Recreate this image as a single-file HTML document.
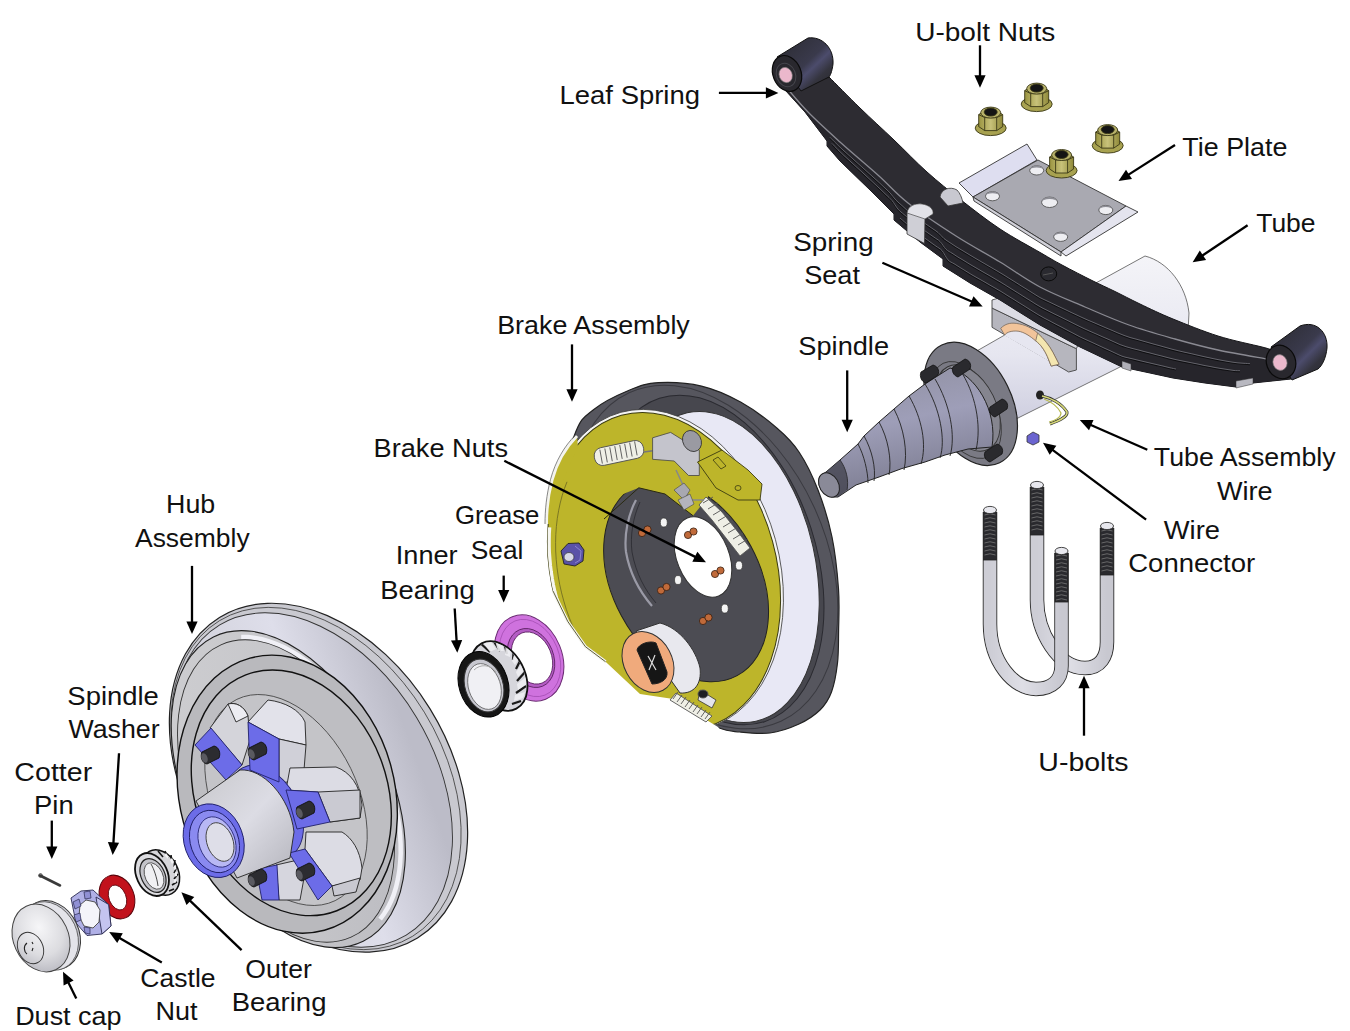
<!DOCTYPE html>
<html><head><meta charset="utf-8"><title>Trailer axle exploded view</title>
<style>
html,body{margin:0;padding:0;background:#fff;overflow:hidden;}
svg{display:block;}
text{font-family:"Liberation Sans",sans-serif;font-size:25.5px;fill:#111;}
</style></head>
<body>
<svg width="1350" height="1031" viewBox="0 0 1350 1031">
<defs>
<linearGradient id="gEye" x1="0" y1="0" x2="1" y2="1">
 <stop offset="0" stop-color="#2a2a30"/><stop offset="0.5" stop-color="#3a3a4c"/><stop offset="0.6" stop-color="#4c4c6c"/><stop offset="0.75" stop-color="#34343e"/><stop offset="1" stop-color="#26262c"/>
</linearGradient>
<linearGradient id="gTube" x1="0" y1="0" x2="0" y2="1">
 <stop offset="0" stop-color="#f4f4f8"/><stop offset="0.6" stop-color="#e6e6f0"/><stop offset="1" stop-color="#cfcfe0"/>
</linearGradient>
<linearGradient id="gSpindle" x1="0" y1="0" x2="0.3" y2="1">
 <stop offset="0" stop-color="#8e8e9e"/><stop offset="0.5" stop-color="#9e9eb8"/><stop offset="1" stop-color="#7c7c90"/>
</linearGradient>
<linearGradient id="gDrum" x1="0" y1="0" x2="1" y2="1">
 <stop offset="0" stop-color="#cfcfd2"/><stop offset="0.6" stop-color="#c4c4c8"/><stop offset="1" stop-color="#b8b8be"/>
</linearGradient>
<linearGradient id="gDrumSide" x1="0" y1="0" x2="1" y2="0.3">
 <stop offset="0" stop-color="#c8c8d0"/><stop offset="0.65" stop-color="#dedeea"/><stop offset="1" stop-color="#bcbcc8"/>
</linearGradient>
<linearGradient id="gHub" x1="0" y1="0" x2="1" y2="1">
 <stop offset="0" stop-color="#c8c8cc"/><stop offset="0.5" stop-color="#dcdce4"/><stop offset="1" stop-color="#b4b4bc"/>
</linearGradient>
<radialGradient id="gCap" cx="0.55" cy="0.35" r="0.7">
 <stop offset="0" stop-color="#f6f6f8"/><stop offset="0.6" stop-color="#dcdce0"/><stop offset="1" stop-color="#b8b8c0"/>
</radialGradient>
<linearGradient id="gNut" x1="0" y1="0" x2="1" y2="0">
 <stop offset="0" stop-color="#9a9440"/><stop offset="0.5" stop-color="#c8c27a"/><stop offset="1" stop-color="#8e8838"/>
</linearGradient>
<linearGradient id="gUbolt" x1="0" y1="0" x2="1" y2="0">
 <stop offset="0" stop-color="#c0c0c8"/><stop offset="0.45" stop-color="#ececf2"/><stop offset="1" stop-color="#b4b4bc"/>
</linearGradient>
</defs>
<g id="tube" stroke="#555" stroke-width="0.8">
<path d="M975,352 L1094,284 L1145,256 C1168,262 1186,285 1189,313 L1188,332 L1118,368 L1014,420 Z" fill="url(#gTube)"/>
</g>
<g id="seat" stroke="#444" stroke-width="0.9">
<path d="M992,308 L1076.4,348.7 L1076.4,370 L1068.7,372 L992,327.3 Z" fill="#b6b6be"/>
<path d="M992,300 L998.8,298 L1080,340 L1076.4,348.7 L992,308 Z" fill="#dcdce4"/>
<path d="M1004.6,335 C1007,332 1012,330.5 1018.2,331.2 C1024,332 1030,336 1035.7,340.9 C1040,344 1044,349 1047.3,356.4 L1051.2,366.1 L1052,363 L1004.6,335.5 Z" fill="#e6e6f0" stroke="none"/>
<path d="M1000.7,328.3 C1005,324 1010,322.5 1016.3,323.4 C1025,324.5 1032,328 1037.6,333.1 C1044,339 1049,345 1053,352.5 L1059,364.2 L1051.2,366.1 L1047.3,356.4 C1044,349 1040,344 1035.7,340.9 C1030,336 1024,332 1018.2,331.2 C1012,330.5 1007,332 1004.6,335 Z" fill="#f2c49a" stroke="#7a6a5a" stroke-width="0.8"/>
<path d="M1037.6,333.1 C1044,339 1049,345 1053,352.5 L1059,364.2 L1051.2,366.1 L1047.3,356.4 C1044,349 1040,344 1035.7,340.9 Z" fill="#f4e6b0" stroke="#7a6a5a" stroke-width="0.8"/>
</g>
<g id="tieplate" stroke="#333" stroke-width="0.9">
<path d="M959,183 L1027,144 L1037,160 L973,197 Z" fill="#dedef0"/>
<path d="M973,197 L1038,160 L1126,206 L1061,252 Z" fill="#a9a9b1"/>
<path d="M973,197 L1061,252 L1061,256 L974,201 Z" fill="#d0d0d8"/>
<path d="M1061,252 L1126,206 L1138,212 L1066,256 Z" fill="#e4e4ee"/>
<g fill="#eeeef2" stroke="#444" stroke-width="0.8">
<ellipse cx="992.5" cy="196.2" rx="7" ry="4.6"/>
<ellipse cx="1036.7" cy="170.4" rx="7" ry="4.6"/>
<ellipse cx="1049.6" cy="202.3" rx="8" ry="5.2"/>
<ellipse cx="1105.8" cy="210" rx="7" ry="4.6"/>
<ellipse cx="1060.7" cy="236.8" rx="7" ry="4.6"/>
</g>
<g fill="#8e8e96" stroke="none">
<path d="M985.5,196.2 A7,4.6 0 0 1 999.5,196.2 A7,3 0 0 0 985.5,196.2 Z"/>
<path d="M1029.7,170.4 A7,4.6 0 0 1 1043.7,170.4 A7,3 0 0 0 1029.7,170.4 Z"/>
<path d="M1041.6,202.3 A8,5.2 0 0 1 1057.6,202.3 A8,3.4 0 0 0 1041.6,202.3 Z"/>
<path d="M1098.8,210 A7,4.6 0 0 1 1112.8,210 A7,3 0 0 0 1098.8,210 Z"/>
<path d="M1053.7,236.8 A7,4.6 0 0 1 1067.7,236.8 A7,3 0 0 0 1053.7,236.8 Z"/>
</g>
</g>
<g transform="translate(990.7,121.6)" stroke="#3a3816" stroke-width="0.9">
<ellipse cx="0" cy="6.5" rx="15.5" ry="7.5" fill="#a8a250"/>
<path d="M-12,-7 L-6,-11 L6,-11 L12,-7 L12,5 L6,9 L-6,9 L-12,5 Z" fill="url(#gNut)"/>
<path d="M-6,-4 L-6,9 M6,-4 L6,9 M-12,-7 L-6,-4 L6,-4 L12,-7" fill="none"/>
<ellipse cx="0" cy="-9" rx="10" ry="5.5" fill="#b8b26a"/>
<ellipse cx="0" cy="-9.5" rx="6.5" ry="4" fill="#141414"/>
</g>
<g transform="translate(1036.7,97.6)" stroke="#3a3816" stroke-width="0.9">
<ellipse cx="0" cy="6.5" rx="15.5" ry="7.5" fill="#a8a250"/>
<path d="M-12,-7 L-6,-11 L6,-11 L12,-7 L12,5 L6,9 L-6,9 L-12,5 Z" fill="url(#gNut)"/>
<path d="M-6,-4 L-6,9 M6,-4 L6,9 M-12,-7 L-6,-4 L6,-4 L12,-7" fill="none"/>
<ellipse cx="0" cy="-9" rx="10" ry="5.5" fill="#b8b26a"/>
<ellipse cx="0" cy="-9.5" rx="6.5" ry="4" fill="#141414"/>
</g>
<g transform="translate(1107.7,139.1)" stroke="#3a3816" stroke-width="0.9">
<ellipse cx="0" cy="6.5" rx="15.5" ry="7.5" fill="#a8a250"/>
<path d="M-12,-7 L-6,-11 L6,-11 L12,-7 L12,5 L6,9 L-6,9 L-12,5 Z" fill="url(#gNut)"/>
<path d="M-6,-4 L-6,9 M6,-4 L6,9 M-12,-7 L-6,-4 L6,-4 L12,-7" fill="none"/>
<ellipse cx="0" cy="-9" rx="10" ry="5.5" fill="#b8b26a"/>
<ellipse cx="0" cy="-9.5" rx="6.5" ry="4" fill="#141414"/>
</g>
<g transform="translate(1061.6,164)" stroke="#3a3816" stroke-width="0.9">
<ellipse cx="0" cy="6.5" rx="15.5" ry="7.5" fill="#a8a250"/>
<path d="M-12,-7 L-6,-11 L6,-11 L12,-7 L12,5 L6,9 L-6,9 L-12,5 Z" fill="url(#gNut)"/>
<path d="M-6,-4 L-6,9 M6,-4 L6,9 M-12,-7 L-6,-4 L6,-4 L12,-7" fill="none"/>
<ellipse cx="0" cy="-9" rx="10" ry="5.5" fill="#b8b26a"/>
<ellipse cx="0" cy="-9.5" rx="6.5" ry="4" fill="#141414"/>
</g>
<g id="leaf"><path d="M829.0,77.0 C834.2,82.2 849.2,97.5 860.0,108.0 C870.8,118.5 882.8,129.3 894.0,140.0 C905.2,150.7 915.8,162.0 927.0,172.0 C938.2,182.0 948.8,190.5 961.0,200.0 C973.2,209.5 986.7,220.2 1000.0,229.0 C1013.3,237.8 1030.7,247.0 1041.0,253.0 C1051.3,259.0 1053.3,260.3 1062.0,265.0 C1070.7,269.7 1084.3,276.7 1093.0,281.0 C1101.7,285.3 1106.2,287.2 1114.0,291.0 C1121.8,294.8 1130.2,299.3 1140.0,304.0 C1149.8,308.7 1160.0,313.7 1173.0,319.0 C1186.0,324.3 1203.2,331.3 1218.0,336.0 C1232.8,340.7 1253.0,344.7 1262.0,347.0 C1271.0,349.3 1270.3,349.5 1272.0,350.0 L1291,379 L1291,379 L1253,383 L1236,387 L1205,383 L1173,378 L1150,373 L1122,367 L1080,347 L1040,325 L1000,300 L970,283 L943,266 L943,259 L920,242 L894,220 L894,214 L870,190 L840,161 L827,146 L827,141 L805,112 L786,91 Z" fill="#2d2c32" stroke="#151518" stroke-width="1"/><path d="M786.0,87.0 C789.7,91.2 799.0,102.8 808.0,112.0 C817.0,121.2 828.2,131.3 840.0,142.0 C851.8,152.7 867.7,165.8 879.0,176.0 C890.3,186.2 895.2,193.0 908.0,203.0 C920.8,213.0 940.7,226.2 956.0,236.0 C971.3,245.8 986.0,253.5 1000.0,262.0 C1014.0,270.5 1025.8,279.5 1040.0,287.0 C1054.2,294.5 1070.2,300.7 1085.0,307.0 C1099.8,313.3 1114.0,319.7 1129.0,325.0 C1144.0,330.3 1160.2,334.8 1175.0,339.0 C1189.8,343.2 1202.7,346.7 1218.0,350.0 C1233.3,353.3 1258.8,357.5 1267.0,359.0 L1291,379 L1291,379 L1253,383 L1236,387 L1205,383 L1173,378 L1150,373 L1122,367 L1080,347 L1040,325 L1000,300 L970,283 L943,266 L943,259 L920,242 L894,220 L894,214 L870,190 L840,161 L827,146 L827,141 L805,112 L786,91 Z" fill="#26252b"/><path d="M830.0,137.3 C831.0,138.3 834.0,141.4 836.0,143.3 C838.0,145.3 840.0,147.3 842.0,149.1 C844.0,151.0 846.0,152.7 848.0,154.5 C850.0,156.3 852.0,158.1 854.0,159.9 C856.0,161.7 858.0,163.5 860.0,165.3 C862.0,167.1 864.0,168.9 866.0,170.7 C868.0,172.5 870.0,174.3 872.0,176.1 C874.0,177.9 876.0,179.7 878.0,181.5 C880.0,183.4 882.0,185.3 884.0,187.2 C886.0,189.1 888.0,190.7 890.0,192.9 C892.0,195.1 894.0,198.1 896.0,200.2 C898.0,202.3 900.0,203.8 902.0,205.6 C904.0,207.4 906.0,209.4 908.0,211.1 C910.0,212.7 912.0,214.0 914.0,215.5 C916.0,216.9 918.0,218.4 920.0,219.9 C922.0,221.3 924.0,222.7 926.0,224.1 C928.0,225.5 930.0,226.9 932.0,228.3 C934.0,229.7 936.0,230.8 938.0,232.5 C940.0,234.2 942.0,236.9 944.0,238.6 C946.0,240.3 948.0,241.3 950.0,242.7 C952.0,244.0 954.0,245.4 956.0,246.7 C958.0,248.0 960.0,249.1 962.0,250.3 C964.0,251.5 966.0,252.7 968.0,253.9 C970.0,255.1 972.0,256.3 974.0,257.5 C976.0,258.6 978.0,259.8 980.0,261.0 C982.0,262.1 984.0,263.3 986.0,264.5 C988.0,265.6 990.0,266.8 992.0,268.0 C994.0,269.1 996.0,270.3 998.0,271.5 C1000.0,272.7 1002.0,273.9 1004.0,275.1 C1006.0,276.4 1008.0,277.6 1010.0,278.9 C1012.0,280.1 1014.0,281.4 1016.0,282.6 C1018.0,283.9 1020.0,285.1 1022.0,286.4 C1024.0,287.6 1026.0,288.9 1028.0,290.1 C1030.0,291.4 1032.0,292.6 1034.0,293.9 C1036.0,295.1 1038.0,296.5 1040.0,297.6 C1042.0,298.7 1044.0,299.5 1046.0,300.5 C1048.0,301.4 1050.0,302.4 1052.0,303.3 C1054.0,304.3 1056.0,305.2 1058.0,306.2 C1060.0,307.1 1062.0,308.1 1064.0,309.0 C1066.0,310.0 1068.0,310.9 1070.0,311.9 C1072.0,312.8 1074.0,313.8 1076.0,314.7 C1078.0,315.6 1080.0,316.6 1082.0,317.5 C1084.0,318.4 1086.0,319.3 1088.0,320.2 C1090.0,321.0 1092.0,321.9 1094.0,322.7 C1096.0,323.6 1098.0,324.4 1100.0,325.3 C1102.0,326.1 1104.0,327.0 1106.0,327.9 C1108.0,328.7 1110.0,329.6 1112.0,330.4 C1114.0,331.3 1116.0,332.2 1118.0,333.0 C1120.0,333.8 1122.0,334.7 1124.0,335.4 C1126.0,336.2 1128.0,336.8 1130.0,337.5 C1132.0,338.1 1134.0,338.6 1136.0,339.1 C1138.0,339.7 1140.0,340.3 1142.0,340.8 C1144.0,341.4 1146.0,341.9 1148.0,342.5 C1150.0,343.0 1152.0,343.6 1154.0,344.2 C1156.0,344.7 1158.0,345.3 1160.0,345.8 C1162.0,346.4 1164.0,347.0 1166.0,347.5 C1168.0,348.1 1170.0,348.7 1172.0,349.2 C1174.0,349.7 1176.0,350.2 1178.0,350.7 C1180.0,351.2 1182.0,351.6 1184.0,352.1 C1186.0,352.5 1188.0,353.0 1190.0,353.4 C1192.0,353.9 1194.0,354.3 1196.0,354.8 C1198.0,355.3 1200.0,355.7 1202.0,356.2 C1204.0,356.6 1206.0,357.1 1208.0,357.5 C1210.0,358.0 1212.0,358.4 1214.0,358.8 C1216.0,359.3 1218.0,359.7 1220.0,360.0 C1222.0,360.4 1224.0,360.7 1226.0,361.1 C1228.0,361.4 1230.0,361.8 1232.0,362.1 C1234.0,362.4 1236.0,362.7 1238.0,362.9 C1240.0,363.1 1242.0,363.1 1244.0,363.3 C1246.0,363.4 1249.0,363.6 1250.0,363.7" fill="none" stroke="#0e0e10" stroke-width="1.3" transform="translate(0,0.8)"/><path d="M830.0,137.3 C831.0,138.3 834.0,141.4 836.0,143.3 C838.0,145.3 840.0,147.3 842.0,149.1 C844.0,151.0 846.0,152.7 848.0,154.5 C850.0,156.3 852.0,158.1 854.0,159.9 C856.0,161.7 858.0,163.5 860.0,165.3 C862.0,167.1 864.0,168.9 866.0,170.7 C868.0,172.5 870.0,174.3 872.0,176.1 C874.0,177.9 876.0,179.7 878.0,181.5 C880.0,183.4 882.0,185.3 884.0,187.2 C886.0,189.1 888.0,190.7 890.0,192.9 C892.0,195.1 894.0,198.1 896.0,200.2 C898.0,202.3 900.0,203.8 902.0,205.6 C904.0,207.4 906.0,209.4 908.0,211.1 C910.0,212.7 912.0,214.0 914.0,215.5 C916.0,216.9 918.0,218.4 920.0,219.9 C922.0,221.3 924.0,222.7 926.0,224.1 C928.0,225.5 930.0,226.9 932.0,228.3 C934.0,229.7 936.0,230.8 938.0,232.5 C940.0,234.2 942.0,236.9 944.0,238.6 C946.0,240.3 948.0,241.3 950.0,242.7 C952.0,244.0 954.0,245.4 956.0,246.7 C958.0,248.0 960.0,249.1 962.0,250.3 C964.0,251.5 966.0,252.7 968.0,253.9 C970.0,255.1 972.0,256.3 974.0,257.5 C976.0,258.6 978.0,259.8 980.0,261.0 C982.0,262.1 984.0,263.3 986.0,264.5 C988.0,265.6 990.0,266.8 992.0,268.0 C994.0,269.1 996.0,270.3 998.0,271.5 C1000.0,272.7 1002.0,273.9 1004.0,275.1 C1006.0,276.4 1008.0,277.6 1010.0,278.9 C1012.0,280.1 1014.0,281.4 1016.0,282.6 C1018.0,283.9 1020.0,285.1 1022.0,286.4 C1024.0,287.6 1026.0,288.9 1028.0,290.1 C1030.0,291.4 1032.0,292.6 1034.0,293.9 C1036.0,295.1 1038.0,296.5 1040.0,297.6 C1042.0,298.7 1044.0,299.5 1046.0,300.5 C1048.0,301.4 1050.0,302.4 1052.0,303.3 C1054.0,304.3 1056.0,305.2 1058.0,306.2 C1060.0,307.1 1062.0,308.1 1064.0,309.0 C1066.0,310.0 1068.0,310.9 1070.0,311.9 C1072.0,312.8 1074.0,313.8 1076.0,314.7 C1078.0,315.6 1080.0,316.6 1082.0,317.5 C1084.0,318.4 1086.0,319.3 1088.0,320.2 C1090.0,321.0 1092.0,321.9 1094.0,322.7 C1096.0,323.6 1098.0,324.4 1100.0,325.3 C1102.0,326.1 1104.0,327.0 1106.0,327.9 C1108.0,328.7 1110.0,329.6 1112.0,330.4 C1114.0,331.3 1116.0,332.2 1118.0,333.0 C1120.0,333.8 1122.0,334.7 1124.0,335.4 C1126.0,336.2 1128.0,336.8 1130.0,337.5 C1132.0,338.1 1134.0,338.6 1136.0,339.1 C1138.0,339.7 1140.0,340.3 1142.0,340.8 C1144.0,341.4 1146.0,341.9 1148.0,342.5 C1150.0,343.0 1152.0,343.6 1154.0,344.2 C1156.0,344.7 1158.0,345.3 1160.0,345.8 C1162.0,346.4 1164.0,347.0 1166.0,347.5 C1168.0,348.1 1170.0,348.7 1172.0,349.2 C1174.0,349.7 1176.0,350.2 1178.0,350.7 C1180.0,351.2 1182.0,351.6 1184.0,352.1 C1186.0,352.5 1188.0,353.0 1190.0,353.4 C1192.0,353.9 1194.0,354.3 1196.0,354.8 C1198.0,355.3 1200.0,355.7 1202.0,356.2 C1204.0,356.6 1206.0,357.1 1208.0,357.5 C1210.0,358.0 1212.0,358.4 1214.0,358.8 C1216.0,359.3 1218.0,359.7 1220.0,360.0 C1222.0,360.4 1224.0,360.7 1226.0,361.1 C1228.0,361.4 1230.0,361.8 1232.0,362.1 C1234.0,362.4 1236.0,362.7 1238.0,362.9 C1240.0,363.1 1242.0,363.1 1244.0,363.3 C1246.0,363.4 1249.0,363.6 1250.0,363.7" fill="none" stroke="#6c6c74" stroke-width="0.9"/><path d="M832.0,143.5 C833.0,144.5 836.0,147.8 838.0,149.8 C840.0,151.8 842.0,153.7 844.0,155.6 C846.0,157.4 848.0,159.2 850.0,161.1 C852.0,162.9 854.0,164.8 856.0,166.6 C858.0,168.5 860.0,170.3 862.0,172.1 C864.0,174.0 866.0,175.8 868.0,177.7 C870.0,179.5 872.0,181.4 874.0,183.3 C876.0,185.1 878.0,187.0 880.0,188.9 C882.0,190.8 884.0,192.8 886.0,194.7 C888.0,196.7 890.0,198.1 892.0,200.5 C894.0,202.9 896.0,206.8 898.0,209.1 C900.0,211.5 902.0,212.7 904.0,214.5 C906.0,216.2 908.0,217.9 910.0,219.5 C912.0,221.2 914.0,222.6 916.0,224.2 C918.0,225.7 920.0,227.2 922.0,228.7 C924.0,230.1 926.0,231.5 928.0,233.0 C930.0,234.4 932.0,235.8 934.0,237.2 C936.0,238.7 938.0,239.5 940.0,241.5 C942.0,243.5 944.0,247.3 946.0,249.3 C948.0,251.2 950.0,251.9 952.0,253.2 C954.0,254.5 956.0,255.8 958.0,257.1 C960.0,258.3 962.0,259.5 964.0,260.7 C966.0,262.0 968.0,263.2 970.0,264.4 C972.0,265.6 974.0,266.7 976.0,267.9 C978.0,269.0 980.0,270.2 982.0,271.4 C984.0,272.5 986.0,273.7 988.0,274.8 C990.0,276.0 992.0,277.1 994.0,278.3 C996.0,279.4 998.0,280.6 1000.0,281.8 C1002.0,283.0 1004.0,284.3 1006.0,285.5 C1008.0,286.8 1010.0,288.0 1012.0,289.3 C1014.0,290.5 1016.0,291.8 1018.0,293.0 C1020.0,294.3 1022.0,295.5 1024.0,296.8 C1026.0,298.0 1028.0,299.3 1030.0,300.5 C1032.0,301.8 1034.0,303.1 1036.0,304.3 C1038.0,305.5 1040.0,306.7 1042.0,307.8 C1044.0,308.8 1046.0,309.8 1048.0,310.8 C1050.0,311.8 1052.0,312.8 1054.0,313.8 C1056.0,314.7 1058.0,315.7 1060.0,316.7 C1062.0,317.7 1064.0,318.7 1066.0,319.7 C1068.0,320.7 1070.0,321.7 1072.0,322.7 C1074.0,323.7 1076.0,324.8 1078.0,325.7 C1080.0,326.7 1082.0,327.7 1084.0,328.6 C1086.0,329.5 1088.0,330.4 1090.0,331.3 C1092.0,332.1 1094.0,333.0 1096.0,333.9 C1098.0,334.8 1100.0,335.7 1102.0,336.6 C1104.0,337.5 1106.0,338.4 1108.0,339.2 C1110.0,340.1 1112.0,341.0 1114.0,341.9 C1116.0,342.8 1118.0,343.8 1120.0,344.6 C1122.0,345.4 1124.0,346.1 1126.0,346.7 C1128.0,347.3 1130.0,347.9 1132.0,348.4 C1134.0,348.9 1136.0,349.4 1138.0,349.9 C1140.0,350.5 1142.0,351.0 1144.0,351.5 C1146.0,352.0 1148.0,352.5 1150.0,353.0 C1152.0,353.5 1154.0,354.1 1156.0,354.6 C1158.0,355.1 1160.0,355.6 1162.0,356.1 C1164.0,356.7 1166.0,357.2 1168.0,357.7 C1170.0,358.2 1172.0,358.8 1174.0,359.2 C1176.0,359.7 1178.0,360.1 1180.0,360.5 C1182.0,360.9 1184.0,361.3 1186.0,361.7 C1188.0,362.1 1190.0,362.5 1192.0,362.9 C1194.0,363.3 1196.0,363.7 1198.0,364.1 C1200.0,364.5 1202.0,365.0 1204.0,365.4 C1206.0,365.8 1208.0,366.1 1210.0,366.5 C1212.0,366.9 1214.0,367.3 1216.0,367.7 C1218.0,368.0 1220.0,368.3 1222.0,368.7 C1224.0,369.0 1226.0,369.3 1228.0,369.6 C1230.0,369.9 1232.0,370.3 1234.0,370.5 C1236.0,370.7 1239.0,370.7 1240.0,370.7" fill="none" stroke="#0e0e10" stroke-width="1.3" transform="translate(0,0.8)"/><path d="M832.0,143.5 C833.0,144.5 836.0,147.8 838.0,149.8 C840.0,151.8 842.0,153.7 844.0,155.6 C846.0,157.4 848.0,159.2 850.0,161.1 C852.0,162.9 854.0,164.8 856.0,166.6 C858.0,168.5 860.0,170.3 862.0,172.1 C864.0,174.0 866.0,175.8 868.0,177.7 C870.0,179.5 872.0,181.4 874.0,183.3 C876.0,185.1 878.0,187.0 880.0,188.9 C882.0,190.8 884.0,192.8 886.0,194.7 C888.0,196.7 890.0,198.1 892.0,200.5 C894.0,202.9 896.0,206.8 898.0,209.1 C900.0,211.5 902.0,212.7 904.0,214.5 C906.0,216.2 908.0,217.9 910.0,219.5 C912.0,221.2 914.0,222.6 916.0,224.2 C918.0,225.7 920.0,227.2 922.0,228.7 C924.0,230.1 926.0,231.5 928.0,233.0 C930.0,234.4 932.0,235.8 934.0,237.2 C936.0,238.7 938.0,239.5 940.0,241.5 C942.0,243.5 944.0,247.3 946.0,249.3 C948.0,251.2 950.0,251.9 952.0,253.2 C954.0,254.5 956.0,255.8 958.0,257.1 C960.0,258.3 962.0,259.5 964.0,260.7 C966.0,262.0 968.0,263.2 970.0,264.4 C972.0,265.6 974.0,266.7 976.0,267.9 C978.0,269.0 980.0,270.2 982.0,271.4 C984.0,272.5 986.0,273.7 988.0,274.8 C990.0,276.0 992.0,277.1 994.0,278.3 C996.0,279.4 998.0,280.6 1000.0,281.8 C1002.0,283.0 1004.0,284.3 1006.0,285.5 C1008.0,286.8 1010.0,288.0 1012.0,289.3 C1014.0,290.5 1016.0,291.8 1018.0,293.0 C1020.0,294.3 1022.0,295.5 1024.0,296.8 C1026.0,298.0 1028.0,299.3 1030.0,300.5 C1032.0,301.8 1034.0,303.1 1036.0,304.3 C1038.0,305.5 1040.0,306.7 1042.0,307.8 C1044.0,308.8 1046.0,309.8 1048.0,310.8 C1050.0,311.8 1052.0,312.8 1054.0,313.8 C1056.0,314.7 1058.0,315.7 1060.0,316.7 C1062.0,317.7 1064.0,318.7 1066.0,319.7 C1068.0,320.7 1070.0,321.7 1072.0,322.7 C1074.0,323.7 1076.0,324.8 1078.0,325.7 C1080.0,326.7 1082.0,327.7 1084.0,328.6 C1086.0,329.5 1088.0,330.4 1090.0,331.3 C1092.0,332.1 1094.0,333.0 1096.0,333.9 C1098.0,334.8 1100.0,335.7 1102.0,336.6 C1104.0,337.5 1106.0,338.4 1108.0,339.2 C1110.0,340.1 1112.0,341.0 1114.0,341.9 C1116.0,342.8 1118.0,343.8 1120.0,344.6 C1122.0,345.4 1124.0,346.1 1126.0,346.7 C1128.0,347.3 1130.0,347.9 1132.0,348.4 C1134.0,348.9 1136.0,349.4 1138.0,349.9 C1140.0,350.5 1142.0,351.0 1144.0,351.5 C1146.0,352.0 1148.0,352.5 1150.0,353.0 C1152.0,353.5 1154.0,354.1 1156.0,354.6 C1158.0,355.1 1160.0,355.6 1162.0,356.1 C1164.0,356.7 1166.0,357.2 1168.0,357.7 C1170.0,358.2 1172.0,358.8 1174.0,359.2 C1176.0,359.7 1178.0,360.1 1180.0,360.5 C1182.0,360.9 1184.0,361.3 1186.0,361.7 C1188.0,362.1 1190.0,362.5 1192.0,362.9 C1194.0,363.3 1196.0,363.7 1198.0,364.1 C1200.0,364.5 1202.0,365.0 1204.0,365.4 C1206.0,365.8 1208.0,366.1 1210.0,366.5 C1212.0,366.9 1214.0,367.3 1216.0,367.7 C1218.0,368.0 1220.0,368.3 1222.0,368.7 C1224.0,369.0 1226.0,369.3 1228.0,369.6 C1230.0,369.9 1232.0,370.3 1234.0,370.5 C1236.0,370.7 1239.0,370.7 1240.0,370.7" fill="none" stroke="#6c6c74" stroke-width="0.9"/><path d="M900.0,218.0 C901.0,218.9 904.0,221.5 906.0,223.2 C908.0,224.9 910.0,226.5 912.0,228.2 C914.0,229.8 916.0,231.4 918.0,233.0 C920.0,234.6 922.0,236.0 924.0,237.5 C926.0,239.0 928.0,240.4 930.0,241.9 C932.0,243.3 934.0,244.8 936.0,246.2 C938.0,247.7 940.0,248.3 942.0,250.6 C944.0,252.9 946.0,257.7 948.0,259.9 C950.0,262.1 952.0,262.5 954.0,263.7 C956.0,265.0 958.0,266.3 960.0,267.5 C962.0,268.8 964.0,270.0 966.0,271.2 C968.0,272.4 970.0,273.7 972.0,274.9 C974.0,276.0 976.0,277.1 978.0,278.3 C980.0,279.4 982.0,280.6 984.0,281.7 C986.0,282.9 988.0,284.0 990.0,285.2 C992.0,286.3 994.0,287.4 996.0,288.6 C998.0,289.8 1000.0,290.9 1002.0,292.1 C1004.0,293.3 1006.0,294.6 1008.0,295.9 C1010.0,297.1 1012.0,298.4 1014.0,299.6 C1016.0,300.9 1018.0,302.1 1020.0,303.4 C1022.0,304.6 1024.0,305.9 1026.0,307.1 C1028.0,308.4 1030.0,309.6 1032.0,310.9 C1034.0,312.1 1036.0,313.4 1038.0,314.6 C1040.0,315.8 1042.0,316.9 1044.0,318.0 C1046.0,319.1 1048.0,320.1 1050.0,321.1 C1052.0,322.2 1054.0,323.2 1056.0,324.3 C1058.0,325.3 1060.0,326.4 1062.0,327.4 C1064.0,328.5 1066.0,329.5 1068.0,330.6 C1070.0,331.6 1072.0,332.7 1074.0,333.7 C1076.0,334.8 1078.0,335.9 1080.0,336.9 C1082.0,337.9 1084.0,338.7 1086.0,339.7 C1088.0,340.6 1090.0,341.5 1092.0,342.4 C1094.0,343.4 1096.0,344.3 1098.0,345.2 C1100.0,346.1 1102.0,347.0 1104.0,348.0 C1106.0,348.9 1108.0,349.8 1110.0,350.7 C1112.0,351.6 1114.0,352.6 1116.0,353.5 C1118.0,354.4 1120.0,355.5 1122.0,356.2 C1124.0,357.0 1126.0,357.3 1128.0,357.8 C1130.0,358.3 1132.0,358.8 1134.0,359.2 C1136.0,359.7 1138.0,360.2 1140.0,360.7 C1142.0,361.1 1144.0,361.6 1146.0,362.1 C1148.0,362.5 1150.0,363.0 1152.0,363.5 C1154.0,364.0 1156.0,364.4 1158.0,364.9 C1160.0,365.4 1162.0,365.9 1164.0,366.3 C1166.0,366.8 1168.0,367.3 1170.0,367.8 C1172.0,368.2 1175.0,368.8 1176.0,369.1" fill="none" stroke="#0e0e10" stroke-width="1.3" transform="translate(0,0.8)"/><path d="M900.0,218.0 C901.0,218.9 904.0,221.5 906.0,223.2 C908.0,224.9 910.0,226.5 912.0,228.2 C914.0,229.8 916.0,231.4 918.0,233.0 C920.0,234.6 922.0,236.0 924.0,237.5 C926.0,239.0 928.0,240.4 930.0,241.9 C932.0,243.3 934.0,244.8 936.0,246.2 C938.0,247.7 940.0,248.3 942.0,250.6 C944.0,252.9 946.0,257.7 948.0,259.9 C950.0,262.1 952.0,262.5 954.0,263.7 C956.0,265.0 958.0,266.3 960.0,267.5 C962.0,268.8 964.0,270.0 966.0,271.2 C968.0,272.4 970.0,273.7 972.0,274.9 C974.0,276.0 976.0,277.1 978.0,278.3 C980.0,279.4 982.0,280.6 984.0,281.7 C986.0,282.9 988.0,284.0 990.0,285.2 C992.0,286.3 994.0,287.4 996.0,288.6 C998.0,289.8 1000.0,290.9 1002.0,292.1 C1004.0,293.3 1006.0,294.6 1008.0,295.9 C1010.0,297.1 1012.0,298.4 1014.0,299.6 C1016.0,300.9 1018.0,302.1 1020.0,303.4 C1022.0,304.6 1024.0,305.9 1026.0,307.1 C1028.0,308.4 1030.0,309.6 1032.0,310.9 C1034.0,312.1 1036.0,313.4 1038.0,314.6 C1040.0,315.8 1042.0,316.9 1044.0,318.0 C1046.0,319.1 1048.0,320.1 1050.0,321.1 C1052.0,322.2 1054.0,323.2 1056.0,324.3 C1058.0,325.3 1060.0,326.4 1062.0,327.4 C1064.0,328.5 1066.0,329.5 1068.0,330.6 C1070.0,331.6 1072.0,332.7 1074.0,333.7 C1076.0,334.8 1078.0,335.9 1080.0,336.9 C1082.0,337.9 1084.0,338.7 1086.0,339.7 C1088.0,340.6 1090.0,341.5 1092.0,342.4 C1094.0,343.4 1096.0,344.3 1098.0,345.2 C1100.0,346.1 1102.0,347.0 1104.0,348.0 C1106.0,348.9 1108.0,349.8 1110.0,350.7 C1112.0,351.6 1114.0,352.6 1116.0,353.5 C1118.0,354.4 1120.0,355.5 1122.0,356.2 C1124.0,357.0 1126.0,357.3 1128.0,357.8 C1130.0,358.3 1132.0,358.8 1134.0,359.2 C1136.0,359.7 1138.0,360.2 1140.0,360.7 C1142.0,361.1 1144.0,361.6 1146.0,362.1 C1148.0,362.5 1150.0,363.0 1152.0,363.5 C1154.0,364.0 1156.0,364.4 1158.0,364.9 C1160.0,365.4 1162.0,365.9 1164.0,366.3 C1166.0,366.8 1168.0,367.3 1170.0,367.8 C1172.0,368.2 1175.0,368.8 1176.0,369.1" fill="none" stroke="#6c6c74" stroke-width="0.9"/><path d="M786.0,87.0 C789.7,91.2 799.0,102.8 808.0,112.0 C817.0,121.2 828.2,131.3 840.0,142.0 C851.8,152.7 867.7,165.8 879.0,176.0 C890.3,186.2 895.2,193.0 908.0,203.0 C920.8,213.0 940.7,226.2 956.0,236.0 C971.3,245.8 986.0,253.5 1000.0,262.0 C1014.0,270.5 1025.8,279.5 1040.0,287.0 C1054.2,294.5 1070.2,300.7 1085.0,307.0 C1099.8,313.3 1114.0,319.7 1129.0,325.0 C1144.0,330.3 1160.2,334.8 1175.0,339.0 C1189.8,343.2 1202.7,346.7 1218.0,350.0 C1233.3,353.3 1258.8,357.5 1267.0,359.0" fill="none" stroke="#8a8a92" stroke-width="1.3"/><path d="M1122,361 L1131,364 L1131,371 L1122,368 Z" fill="#b0b0b8" stroke="#333" stroke-width="0.5"/><path d="M1236,381 L1253,378 L1253,384 L1236,388 Z" fill="#b8b8c0" stroke="#333" stroke-width="0.5"/><path d="M940,197 C941,189 950,186 957,190 C960,193 962,198 963,203 L948,206 Z" fill="#c8c8d0" stroke="#333" stroke-width="0.8"/><path d="M907,213 C908,206 915,203 922,204 C929,205 934,209 933,214 L925,219 L924.5,243.5 L907,234 Z" fill="#cfcfd6" stroke="#333" stroke-width="0.8"/><path d="M907,213 C908,206 915,203 922,204 C929,205 934,209 933,214 L925,219 Z" fill="#e2e2e8" stroke="#333" stroke-width="0.6"/><ellipse cx="1048.7" cy="273.9" rx="8" ry="7" fill="#2a2a30" stroke="#0a0a0a" stroke-width="1"/><path d="M1043,275 L1053,273" stroke="#555" stroke-width="1"/><path d="M777,57 L808,38 C822,36 834,48 833,64 C832,72 830,76 829,77 L801,91 Z" fill="url(#gEye)" stroke="#111" stroke-width="1"/>
<ellipse cx="787" cy="73.5" rx="14" ry="18.5" transform="rotate(-22 787 73.5)" fill="#29282e" stroke="#0a0a0a" stroke-width="1.2"/>
<ellipse cx="786" cy="75" rx="9.5" ry="12" transform="rotate(-22 786 75)" fill="none" stroke="#45454c" stroke-width="1"/>
<ellipse cx="785.7" cy="75" rx="6.5" ry="7.8" transform="rotate(-22 785.7 75)" fill="#ebb8cc" stroke="#777" stroke-width="0.6"/>
<path d="M1271,347 L1300,326 C1316,320 1328,332 1327,348 C1326,358 1322,366 1318,369 L1292,380 Z" fill="url(#gEye)" stroke="#111" stroke-width="1"/>
<ellipse cx="1281" cy="362" rx="14.5" ry="17" transform="rotate(-20 1281 362)" fill="#29282e" stroke="#0a0a0a" stroke-width="1.2"/>
<ellipse cx="1280" cy="362.5" rx="7" ry="8" transform="rotate(-20 1280 362.5)" fill="#ebb8cc" stroke="#777" stroke-width="0.6"/></g>
<g id="spindle">
<ellipse cx="970.7" cy="403.9" rx="65.6" ry="40.9" transform="rotate(63.8 970.7 403.9)" fill="#7a7a84" stroke="#222" stroke-width="1.2"/>
<ellipse cx="966" cy="410" rx="52" ry="30" transform="rotate(63.8 966 410)" fill="none" stroke="#333" stroke-width="0.8"/>
<ellipse cx="968" cy="408" rx="46" ry="28" transform="rotate(63.8 968 408)" fill="#85858f" stroke="#333" stroke-width="0.9"/>
<path d="M950,368 C975,374 998,410 992,447 L968,449 L945,455 L925,462 L902,468.5 L879,477 L856,485 L838,497 L833,497 C822,496 816,484 820,476 L826,472 L840,460 L858,444 L864,436 L879,422 L894,409 L909,396 L925,384 Z" fill="url(#gSpindle)" stroke="#222" stroke-width="1"/>
<g fill="none" stroke="#222" stroke-width="0.9">
<path d="M858,444 C864,455 868,472 868,483"/>
<path d="M864,436 C872,450 876,468 874,481"/>
<path d="M879,422 C888,438 892,460 889,475"/>
<path d="M894,409 C904,428 908,452 904,470"/>
<path d="M909,396 C922,418 927,445 921,464"/>
<path d="M925,384 C940,408 946,440 940,458"/>
<path d="M935,379 C950,404 956,436 950,456"/>
<path d="M960,370 C975,392 982,425 976,450"/>
<path d="M840,460 C846,468 849,480 847,490"/>
</g>
<path d="M826,472 L840,460 C846,468 849,480 847,490 L838,497 Z" fill="#3a3a44" opacity="0.7"/>
<ellipse cx="829" cy="485" rx="9.5" ry="13" transform="rotate(-30 829 485)" fill="#8a8a98" stroke="#222" stroke-width="1"/>
<g fill="#2a2a2e" stroke="#111" stroke-width="0.8">
<path d="M921,372 L933,365 C937,366 940,370 938,375 L926,383 C922,382 919,377 921,372 Z"/>
<path d="M953,367 L965,359 C969,360 972,364 970,369 L958,377 C954,376 951,371 953,367 Z"/>
<path d="M990,407 L1002,399 C1006,400 1009,404 1007,409 L995,417 C991,416 988,411 990,407 Z"/>
<path d="M985,452 L997,444 C1001,445 1004,449 1002,454 L990,462 C986,461 983,456 985,452 Z"/>
</g>
</g>
<g id="wire">
<ellipse cx="1040" cy="395" rx="4" ry="4.5" fill="#222"/>
<path d="M1042,396 C1052,398 1062,404 1067,412 C1068,417 1058,421 1050,424" fill="none" stroke="#333" stroke-width="3"/>
<path d="M1042,396 C1052,398 1062,404 1067,412 C1068,417 1058,421 1050,424" fill="none" stroke="#d6d878" stroke-width="1.6"/>
<path d="M1044,399 C1052,402 1058,407 1061,413 C1061,417 1055,421 1049,422" fill="none" stroke="#b8ba50" stroke-width="1.2"/>
<path d="M1027,436 L1033,432 L1039,435 L1039,442 L1033,445 L1027,442 Z" fill="#6b64d0" stroke="#333" stroke-width="0.8"/>
</g>
<g><path d="M1037,487 L1037,600 C1037,632 1058,668 1085,668 C1101,668 1107,656 1107,642 L1107,528" fill="none" stroke="#333" stroke-width="14.5" stroke-linejoin="round"/><path d="M1037,487 L1037,600 C1037,632 1058,668 1085,668 C1101,668 1107,656 1107,642 L1107,528" fill="none" stroke="url(#gUbolt)" stroke-width="12.5" stroke-linejoin="round"/><path d="M1037,487 L1037,600 C1037,632 1058,668 1085,668 C1101,668 1107,656 1107,642 L1107,528" fill="none" stroke="#d6d6de" stroke-width="12.5" stroke-linejoin="round" opacity="0.6"/><rect x="1030.5" y="487" width="13" height="48" fill="#2a2a2e" stroke="#222" stroke-width="0.8"/><path d="M1031.5,490 Q1037,487.5 1042.5,490" fill="none" stroke="#777" stroke-width="0.8"/><path d="M1031.5,494 Q1037,491.5 1042.5,494" fill="none" stroke="#777" stroke-width="0.8"/><path d="M1031.5,498 Q1037,495.5 1042.5,498" fill="none" stroke="#777" stroke-width="0.8"/><path d="M1031.5,502 Q1037,499.5 1042.5,502" fill="none" stroke="#777" stroke-width="0.8"/><path d="M1031.5,506 Q1037,503.5 1042.5,506" fill="none" stroke="#777" stroke-width="0.8"/><path d="M1031.5,510 Q1037,507.5 1042.5,510" fill="none" stroke="#777" stroke-width="0.8"/><path d="M1031.5,514 Q1037,511.5 1042.5,514" fill="none" stroke="#777" stroke-width="0.8"/><path d="M1031.5,518 Q1037,515.5 1042.5,518" fill="none" stroke="#777" stroke-width="0.8"/><path d="M1031.5,522 Q1037,519.5 1042.5,522" fill="none" stroke="#777" stroke-width="0.8"/><path d="M1031.5,526 Q1037,523.5 1042.5,526" fill="none" stroke="#777" stroke-width="0.8"/><path d="M1031.5,530 Q1037,527.5 1042.5,530" fill="none" stroke="#777" stroke-width="0.8"/><rect x="1100.5" y="528" width="13" height="47" fill="#2a2a2e" stroke="#222" stroke-width="0.8"/><path d="M1101.5,531 Q1107,528.5 1112.5,531" fill="none" stroke="#777" stroke-width="0.8"/><path d="M1101.5,535 Q1107,532.5 1112.5,535" fill="none" stroke="#777" stroke-width="0.8"/><path d="M1101.5,539 Q1107,536.5 1112.5,539" fill="none" stroke="#777" stroke-width="0.8"/><path d="M1101.5,543 Q1107,540.5 1112.5,543" fill="none" stroke="#777" stroke-width="0.8"/><path d="M1101.5,547 Q1107,544.5 1112.5,547" fill="none" stroke="#777" stroke-width="0.8"/><path d="M1101.5,551 Q1107,548.5 1112.5,551" fill="none" stroke="#777" stroke-width="0.8"/><path d="M1101.5,555 Q1107,552.5 1112.5,555" fill="none" stroke="#777" stroke-width="0.8"/><path d="M1101.5,559 Q1107,556.5 1112.5,559" fill="none" stroke="#777" stroke-width="0.8"/><path d="M1101.5,563 Q1107,560.5 1112.5,563" fill="none" stroke="#777" stroke-width="0.8"/><path d="M1101.5,567 Q1107,564.5 1112.5,567" fill="none" stroke="#777" stroke-width="0.8"/><path d="M1101.5,571 Q1107,568.5 1112.5,571" fill="none" stroke="#777" stroke-width="0.8"/><ellipse cx="1037" cy="485" rx="6.5" ry="3.6" fill="#e8e8ee" stroke="#333" stroke-width="0.9"/><ellipse cx="1107" cy="526" rx="6.5" ry="3.6" fill="#e8e8ee" stroke="#333" stroke-width="0.9"/></g>
<g><path d="M990,512 L990,624 C990,662 1014,689 1036,689 C1053,689 1061.5,679 1061.5,666 L1061.5,553" fill="none" stroke="#333" stroke-width="14.5" stroke-linejoin="round"/><path d="M990,512 L990,624 C990,662 1014,689 1036,689 C1053,689 1061.5,679 1061.5,666 L1061.5,553" fill="none" stroke="url(#gUbolt)" stroke-width="12.5" stroke-linejoin="round"/><path d="M990,512 L990,624 C990,662 1014,689 1036,689 C1053,689 1061.5,679 1061.5,666 L1061.5,553" fill="none" stroke="#d6d6de" stroke-width="12.5" stroke-linejoin="round" opacity="0.6"/><rect x="983.5" y="512" width="13" height="48" fill="#2a2a2e" stroke="#222" stroke-width="0.8"/><path d="M984.5,515 Q990,512.5 995.5,515" fill="none" stroke="#777" stroke-width="0.8"/><path d="M984.5,519 Q990,516.5 995.5,519" fill="none" stroke="#777" stroke-width="0.8"/><path d="M984.5,523 Q990,520.5 995.5,523" fill="none" stroke="#777" stroke-width="0.8"/><path d="M984.5,527 Q990,524.5 995.5,527" fill="none" stroke="#777" stroke-width="0.8"/><path d="M984.5,531 Q990,528.5 995.5,531" fill="none" stroke="#777" stroke-width="0.8"/><path d="M984.5,535 Q990,532.5 995.5,535" fill="none" stroke="#777" stroke-width="0.8"/><path d="M984.5,539 Q990,536.5 995.5,539" fill="none" stroke="#777" stroke-width="0.8"/><path d="M984.5,543 Q990,540.5 995.5,543" fill="none" stroke="#777" stroke-width="0.8"/><path d="M984.5,547 Q990,544.5 995.5,547" fill="none" stroke="#777" stroke-width="0.8"/><path d="M984.5,551 Q990,548.5 995.5,551" fill="none" stroke="#777" stroke-width="0.8"/><path d="M984.5,555 Q990,552.5 995.5,555" fill="none" stroke="#777" stroke-width="0.8"/><rect x="1055.0" y="553" width="13" height="49" fill="#2a2a2e" stroke="#222" stroke-width="0.8"/><path d="M1056.0,556 Q1061.5,553.5 1067.0,556" fill="none" stroke="#777" stroke-width="0.8"/><path d="M1056.0,560 Q1061.5,557.5 1067.0,560" fill="none" stroke="#777" stroke-width="0.8"/><path d="M1056.0,564 Q1061.5,561.5 1067.0,564" fill="none" stroke="#777" stroke-width="0.8"/><path d="M1056.0,568 Q1061.5,565.5 1067.0,568" fill="none" stroke="#777" stroke-width="0.8"/><path d="M1056.0,572 Q1061.5,569.5 1067.0,572" fill="none" stroke="#777" stroke-width="0.8"/><path d="M1056.0,576 Q1061.5,573.5 1067.0,576" fill="none" stroke="#777" stroke-width="0.8"/><path d="M1056.0,580 Q1061.5,577.5 1067.0,580" fill="none" stroke="#777" stroke-width="0.8"/><path d="M1056.0,584 Q1061.5,581.5 1067.0,584" fill="none" stroke="#777" stroke-width="0.8"/><path d="M1056.0,588 Q1061.5,585.5 1067.0,588" fill="none" stroke="#777" stroke-width="0.8"/><path d="M1056.0,592 Q1061.5,589.5 1067.0,592" fill="none" stroke="#777" stroke-width="0.8"/><path d="M1056.0,596 Q1061.5,593.5 1067.0,596" fill="none" stroke="#777" stroke-width="0.8"/><path d="M1056.0,600 Q1061.5,597.5 1067.0,600" fill="none" stroke="#777" stroke-width="0.8"/><ellipse cx="990" cy="510" rx="6.5" ry="3.6" fill="#e8e8ee" stroke="#333" stroke-width="0.9"/><ellipse cx="1061.5" cy="551" rx="6.5" ry="3.6" fill="#e8e8ee" stroke="#333" stroke-width="0.9"/></g>
<g id="brake">
<clipPath id="cpBrake"><path d="M574.0,436.4 C581.5,416.3 584.5,417.2 593.8,409.5 C603.1,401.8 618.9,394.5 629.7,390.0 C640.5,385.5 646.4,383.2 658.4,382.6 C670.4,382.0 687.7,382.8 701.5,386.1 C715.3,389.4 728.5,395.3 741.0,402.3 C753.5,409.3 767.1,419.7 776.8,428.0 C786.5,436.3 792.1,441.7 799.0,452.0 C805.9,462.3 812.5,475.8 818.0,490.0 C823.5,504.2 828.6,520.5 832.0,537.0 C835.4,553.5 837.4,573.5 838.5,589.0 C839.6,604.5 838.8,617.7 838.6,630.0 C838.4,642.3 838.7,652.7 837.5,663.0 C836.3,673.3 834.4,684.2 831.5,692.0 C828.6,699.8 825.4,704.7 820.0,710.0 C814.6,715.3 807.3,720.2 799.0,724.0 C790.7,727.8 779.8,731.7 770.0,733.0 C760.2,734.3 749.0,733.0 740.0,732.0 C731.0,731.0 731.0,732.3 716.0,727.0 C701.0,721.7 672.7,716.2 650.0,700.0 C627.3,683.8 596.8,658.3 580.0,630.0 C563.2,601.7 550.0,562.3 549.0,530.0 C548.0,497.7 566.5,456.5 574.0,436.4 Z"/></clipPath>
<path d="M574.0,436.4 C581.5,416.3 584.5,417.2 593.8,409.5 C603.1,401.8 618.9,394.5 629.7,390.0 C640.5,385.5 646.4,383.2 658.4,382.6 C670.4,382.0 687.7,382.8 701.5,386.1 C715.3,389.4 728.5,395.3 741.0,402.3 C753.5,409.3 767.1,419.7 776.8,428.0 C786.5,436.3 792.1,441.7 799.0,452.0 C805.9,462.3 812.5,475.8 818.0,490.0 C823.5,504.2 828.6,520.5 832.0,537.0 C835.4,553.5 837.4,573.5 838.5,589.0 C839.6,604.5 838.8,617.7 838.6,630.0 C838.4,642.3 838.7,652.7 837.5,663.0 C836.3,673.3 834.4,684.2 831.5,692.0 C828.6,699.8 825.4,704.7 820.0,710.0 C814.6,715.3 807.3,720.2 799.0,724.0 C790.7,727.8 779.8,731.7 770.0,733.0 C760.2,734.3 749.0,733.0 740.0,732.0 C731.0,731.0 731.0,732.3 716.0,727.0 C701.0,721.7 672.7,716.2 650.0,700.0 C627.3,683.8 596.8,658.3 580.0,630.0 C563.2,601.7 550.0,562.3 549.0,530.0 C548.0,497.7 566.5,456.5 574.0,436.4 Z" fill="#56565e" stroke="#222" stroke-width="1.2"/>
<g clip-path="url(#cpBrake)">
<ellipse cx="705" cy="557" rx="120" ry="181" transform="rotate(-24.8 705 557)" fill="none" stroke="#3a3a40" stroke-width="1"/>
<ellipse cx="712" cy="560" rx="104" ry="170" transform="rotate(-18 712 560)" fill="#47474e" stroke="#2a2a30" stroke-width="1"/>
<ellipse cx="721.6" cy="567" rx="93.6" ry="158" transform="rotate(-12.6 721.6 567)" fill="#e8e8f5" stroke="#333" stroke-width="1"/>
<ellipse cx="664" cy="570" rx="115.5" ry="163.5" transform="rotate(-15.3 664 570)" fill="#f4f4f4" stroke="#444" stroke-width="0.8"/>
</g>
<ellipse cx="664" cy="571" rx="112.5" ry="161.5" transform="rotate(-15.3 664 571)" fill="#bdb52a" stroke="#3a3a10" stroke-width="1"/>
<path d="M577,436 C566,447 557,462 552,480 C548,495 546.5,510 546.5,524 L556,524 C557,500 563,474 578,448 Z" fill="#bdb52a"/>
<path d="M577,436 C566,447 557,462 552,480 C548,495 546.5,510 546.5,524" fill="none" stroke="#f4f4ee" stroke-width="3"/>
<path d="M575.5,435 C564.5,446 555.5,461 550.5,479.5 C546.5,494.5 545,510 545,524" fill="none" stroke="#555" stroke-width="0.7"/>
<path d="M592.4,673.0 L588.8,668.1 L585.2,662.9 L581.8,657.6 L578.6,652.1 L575.5,646.5 L572.5,640.8 L569.7,634.9 L567.1,629.0 L564.6,622.9 L562.3,616.8 L560.2,610.5 L558.3,604.2 L556.5,597.9 L554.9,591.5 L553.5,585.1 L552.3,578.6 L551.3,572.1 L550.5,565.7 L549.9,559.2 L549.4,552.7 L549.2,546.3 L549.2,540.0 L549.3,533.6 L549.7,527.4" fill="none" stroke="#f6f6f0" stroke-width="3.2"/>
<path d="M629.5,699.7 L623.7,695.4 L618.0,690.7 L612.5,685.6 L607.1,680.1 L602.0,674.3 L597.0,668.1 L592.3,661.6 L587.7,654.9 L583.5,647.8 L579.5,640.5 L575.7,633.0 L572.3,625.3 L569.2,617.4 L566.3,609.3 L563.8,601.1 L561.6,592.9 L559.7,584.5 L558.2,576.1 L557.0,567.7 L556.2,559.3 L555.7,551.0 L555.6,542.7 L555.8,534.5 L556.4,526.4 L557.3,518.4 L558.6,510.7 L560.2,503.1 L562.1,495.8 L564.4,488.7 L567.0,481.8" fill="none" stroke="#6a6620" stroke-width="0.8"/>
<ellipse cx="686.1" cy="580.9" rx="73.5" ry="107.6" transform="rotate(-28.3 686.1 580.9)" fill="#4c4c53" stroke="#222" stroke-width="1"/>
<path d="M596,505 L638.8,487.8 L665,494 L693,515.7 L708,497 L706,455 L596,455 Z" fill="#bdb52a" stroke="none"/>
<path d="M604,519 L638.8,487.8 L665,494 L693,515.7" fill="none" stroke="#2a2a10" stroke-width="1"/>
<path d="M636,500 C628,515 624,535 626,552 C630,575 640,592 652,606" fill="none" stroke="#9a9aa6" stroke-width="2.2"/>
<path d="M640,502 C633,517 630,536 632,552 C636,574 645,590 656,603" fill="none" stroke="#2a2a30" stroke-width="0.8"/>
<ellipse cx="703" cy="557" rx="26" ry="42" transform="rotate(-22 703 557)" fill="#ffffff" stroke="#333" stroke-width="1"/>
<path d="M553,591 L567.8,621.5 L585.4,646.7 L605.6,661.8 L640,694 L680,700 L700,716 L718,727 L745,760 L540,760 L540,591 Z" fill="#ffffff"/>
<path d="M553,591 L567.8,621.5 L585.4,646.7 L605.6,661.8" fill="none" stroke="#f4f4ee" stroke-width="3"/>
<path d="M553,591 L567.8,621.5 L585.4,646.7 L605.6,661.8" fill="none" stroke="#3a3a10" stroke-width="0.8"/>
<g fill="#f4f4f4" stroke="#333" stroke-width="0.7">
<ellipse cx="663.8" cy="522.5" rx="3.5" ry="4.5"/>
<ellipse cx="739" cy="565.5" rx="3.5" ry="4.5"/>
<ellipse cx="678" cy="580" rx="3.5" ry="4.5"/>
<ellipse cx="724.8" cy="608.6" rx="3.5" ry="4.5"/>
</g>
<g fill="#c06a3a" stroke="#3a2010" stroke-width="0.8">
<circle cx="688" cy="535" r="3.6"/><circle cx="693.5" cy="531.5" r="3.6"/>
<circle cx="715" cy="574" r="3.6"/><circle cx="720.5" cy="570.5" r="3.6"/>
<circle cx="642" cy="533" r="3.6"/><circle cx="647.5" cy="529.5" r="3.6"/>
<circle cx="661" cy="590.5" r="3.6"/><circle cx="666.5" cy="587" r="3.6"/>
<circle cx="703" cy="621" r="3.6"/><circle cx="708.5" cy="617.5" r="3.6"/>
</g>
<!-- magnet -->
<path d="M636,631 L660,623 C680,628 696,650 700,668 C702,684 694,694 680,693 Z" fill="#e8e8ee" stroke="#333" stroke-width="1"/>
<ellipse cx="648" cy="662" rx="24" ry="32" transform="rotate(-28 648 662)" fill="#f0aa7c" stroke="#333" stroke-width="1"/>
<path d="M637,650 C638,644 650,640 656,643 L667,672 C668,680 660,684 652,684 Z" fill="#161616" stroke="#222"/>
<path d="M648,656 L656,670 M655,655 L649,670" stroke="#ddd" stroke-width="1.2"/>
<!-- springs -->
<g fill="none" stroke="#555" stroke-width="0.9">
<rect x="594" y="444" width="50" height="18" rx="8" transform="rotate(-12 619 453)" fill="#efefe6"/>
<path d="M600,449 l2,14 M605,448 l2,14 M610,447 l2,14 M615,446 l2,14 M620,445 l2,14 M625,444 l2,14 M630,443 l2,14 M635,442 l2,14" transform="rotate(-2 619 453)"/>
<path d="M644,452 L672,448 L686,456" stroke="#777" stroke-width="1.5"/>
<path d="M706,497 L722,512 L738,532 L750,548 L740,556 L726,538 L712,520 L699,505 Z" fill="#efefe6"/>
<path d="M703,503 l10,-6 M708,509 l10,-6 M713,515 l10,-6 M718,521 l10,-6 M723,527 l10,-6 M728,533 l10,-6 M733,539 l10,-6 M738,545 l10,-6"/>
<path d="M676,470 L690,500 L704,500" stroke="#888" stroke-width="1.5"/>
<path d="M676,693 L712,716 L706,722 L670,700 Z" fill="#efefe6"/>
<path d="M678,692 l-5,7 M682,695 l-5,7 M686,697 l-5,7 M690,700 l-5,7 M694,702 l-5,7 M698,705 l-5,7 M702,707 l-5,7 M706,710 l-5,7 M710,712 l-5,7" stroke="#555" stroke-width="0.9"/>
<path d="M700,690 L716,700 L712,708 L698,700 Z" fill="#e4e4ea" stroke="#333" stroke-width="0.8"/>
<ellipse cx="703" cy="694" rx="5" ry="4" fill="#1e1e22"/>
</g>
<path d="M652.6,437.8 L670.6,432.4 L699.3,450.3 L699.3,475.5 L688.5,475.5 L674.2,461 L652.6,459.3 Z" fill="#c4c4cc" stroke="#444" stroke-width="0.8"/>
<ellipse cx="692" cy="441" rx="9" ry="11" transform="rotate(-30 692 441)" fill="#9a9aa2" stroke="#333" stroke-width="0.8"/>
<path d="M697.5,462 L722,450 L748,470 L762,484 L760,500 L738,500 L716,488 Z" fill="#bdb52a" stroke="#3a3a10" stroke-width="0.9"/>
<path d="M713,460 L718,457 L726,466 L721,469 Z" fill="none" stroke="#3a3a10" stroke-width="0.8"/>
<ellipse cx="738" cy="488" rx="3" ry="2.5" fill="none" stroke="#3a3a10" stroke-width="0.8"/>
<path d="M674,490 L684,483 L690,490 L684,500 Z" fill="#a8a8b0" stroke="#444" stroke-width="0.6"/>
<path d="M678,500 L690,494 L694,504 L684,510 Z" fill="#b4b4bc" stroke="#444" stroke-width="0.6"/>
<path d="M561,551 L568,543.5 L579,543 L584,550 L583,561 L575,566 L564,564 Z" fill="#5a52a8" stroke="#222" stroke-width="0.9"/>
<ellipse cx="569" cy="557" rx="5" ry="4.5" fill="#d8d8e8" stroke="#333" stroke-width="0.7"/>
<path d="M575,546 L581,551 L580,560 L575,563" fill="none" stroke="#8a84d0" stroke-width="1"/>
</g>
<g id="seal">
<ellipse cx="529" cy="658" rx="33" ry="44.5" transform="rotate(-22 529 658)" fill="#cf72de" stroke="#6a2a72" stroke-width="1"/>
<ellipse cx="531" cy="658" rx="22.5" ry="30.5" transform="rotate(-22 531 658)" fill="#b45cc4" stroke="#5a2060" stroke-width="0.8"/>
<ellipse cx="530" cy="658" rx="29" ry="40" transform="rotate(-22 530 658)" fill="none" stroke="#a24cb2" stroke-width="0.7"/>
<ellipse cx="532" cy="658" rx="19.5" ry="27" transform="rotate(-22 532 658)" fill="#ffffff" stroke="#5a2060" stroke-width="0.8"/>
</g>
<g id="innerbearing">
<clipPath id="cpIB"><ellipse cx="499" cy="676" rx="24.5" ry="36" transform="rotate(-28 499 676)"/></clipPath>
<ellipse cx="499" cy="676" rx="25.5" ry="37" transform="rotate(-28 499 676)" fill="#d6d6dc" stroke="#111" stroke-width="1.8"/>
<g clip-path="url(#cpIB)">
<g stroke="#1a1a1a" stroke-width="2.2" fill="none">
<path d="M478,641 L490,652"/><path d="M491,637 L500,651"/><path d="M503,638 L507,654"/><path d="M514,645 L513,660"/>
<path d="M522,657 L516,669"/><path d="M526,671 L517,681"/><path d="M526,686 L516,693"/><path d="M521,701 L512,704"/>
</g>
<g fill="#efeff2" stroke="none" opacity="0.9">
<path d="M482,641 L489,638 L496,649 L490,652 Z"/><path d="M494,637 L501,637 L504,651 L498,651 Z"/><path d="M506,640 L512,644 L510,657 L505,655 Z"/>
<path d="M516,649 L521,655 L515,665 L512,661 Z"/><path d="M523,662 L526,668 L518,677 L516,672 Z"/><path d="M526,677 L527,684 L518,690 L517,684 Z"/><path d="M525,692 L523,698 L514,701 L515,695 Z"/>
</g>
</g>
<ellipse cx="483.5" cy="684.3" rx="24.5" ry="33.5" transform="rotate(-18 483.5 684.3)" fill="#161616" stroke="#000" stroke-width="1"/>
<ellipse cx="484" cy="685.5" rx="19" ry="27" transform="rotate(-18 484 685.5)" fill="#c8c8d0" stroke="#333" stroke-width="1"/>
<ellipse cx="484.5" cy="686.5" rx="16" ry="23.5" transform="rotate(-18 484.5 686.5)" fill="#f0f0f4" stroke="#555" stroke-width="0.7"/>
<path d="M474,670 C480,664 490,664 496,672" fill="none" stroke="#aaa" stroke-width="1"/>
</g>
<g id="drum">
<ellipse cx="318.5" cy="777.7" rx="131.1" ry="188.4" transform="rotate(-31.7 318.5 777.7)" fill="#c9c9d0" stroke="#222" stroke-width="1.2"/>
<ellipse cx="316" cy="778.5" rx="127" ry="185" transform="rotate(-31.5 316 778.5)" fill="none" stroke="#444" stroke-width="0.8"/>
<ellipse cx="313" cy="780" rx="121" ry="181" transform="rotate(-31 313 780)" fill="url(#gDrumSide)" stroke="#333" stroke-width="0.9"/>
<ellipse cx="288.3" cy="789.1" rx="100.3" ry="169.6" transform="rotate(-26.2 288.3 789.1)" fill="url(#gDrum)" stroke="#222" stroke-width="1.1"/>
<path d="M241.2,637.0 L248.0,637.1 L254.9,637.9 L262.0,639.3 L269.2,641.3 L276.5,644.0 L283.9,647.3 L291.2,651.2 L298.6,655.7 L305.9,660.8 L313.1,666.4 L320.2,672.6 L327.2,679.2 L334.0,686.4 L340.6,693.9 L347.0,701.9 L353.1,710.2 L359.0,718.9 L364.6,727.9 L369.8,737.1 L374.7,746.6 L379.2,756.2 L383.3,766.0 L387.1,775.9 L390.4,785.8 L393.2,795.8 L395.6,805.7 L397.6,815.6 L399.1,825.3 L400.1,834.9 L400.6,844.3 L400.7,853.5 L400.2,862.3 L399.3,870.9 L397.9,879.1 L396.1,886.9 L393.8,894.4 L391.0,901.3 L387.8,907.8 L384.1,913.8 L380.1,919.2" fill="none" stroke="#f0f0f6" stroke-width="4.5"/>
<ellipse cx="286" cy="791" rx="95" ry="160" transform="rotate(-24 286 791)" fill="none" stroke="#333" stroke-width="0.9"/>
<ellipse cx="287.2" cy="794.2" rx="107.5" ry="141.1" transform="rotate(-15.3 287.2 794.2)" fill="#b9b9bd" stroke="#111" stroke-width="1.4"/>
<ellipse cx="291.3" cy="792.8" rx="95.5" ry="126.4" transform="rotate(-21.1 291.3 792.8)" fill="#bebec2" stroke="#111" stroke-width="1.4"/>
<ellipse cx="286" cy="800" rx="72" ry="112" transform="rotate(-26 286 800)" fill="#c4c4c8" stroke="#444" stroke-width="0.8"/>
</g>
<g id="hub" stroke="#222" stroke-width="0.9">
<!-- lug bosses (light) -->
<path d="M210,728 L228,704 C236,702 244,706 248,716 L250,740 L242,765 Z" fill="#d4d4da"/>
<path d="M228,704 C236,702 244,706 248,716 L236,722 Z" fill="#ececf2"/>
<path d="M248,722 L268,700 C285,702 300,710 305,722 L306,745 L279,739 Z" fill="#e2e2ea"/>
<path d="M279,739 L306,745 L304,770 C300,778 290,784 279,782 Z" fill="#d0d0d8"/>
<path d="M286,790 L290,768 L336,767 C350,772 360,785 362,805 L360,818 L330,822 L318,792 Z" fill="#dcdce4"/>
<path d="M318,792 L360,790 L360,818 L330,822 Z" fill="#cacad2"/>
<path d="M305,849 L306,832 L342,832 C352,838 360,850 362,868 L360,880 L332,886 Z" fill="#dcdce4"/>
<path d="M332,886 L360,878 L356,892 L334,896 Z" fill="#c8c8d0"/>
<path d="M276,865 L298,860 L304,878 L300,900 L279,900 Z" fill="#d6d6de"/>
<!-- blue flange arms -->
<g fill="#6c6ce8" stroke="#20206a">
<ellipse cx="266" cy="812" rx="33" ry="50" transform="rotate(-28 266 812)"/>
<path d="M195,745 L211,728 L242,765 L226,780 Z"/>
<path d="M248,722 L279,739 L279,782 L250,770 Z"/>
<path d="M286,790 L318,792 L330,822 L297,829 Z"/>
<path d="M289,853 L305,849 L332,886 L318,900 Z"/>
<path d="M256,869 L277,865 L279,900 L262,900 Z"/>
</g>
<!-- hub cylinder -->
<path d="M196,801 L240,770 C262,768 290,796 294,832 L290,858 L237,878 Z" fill="url(#gHub)"/>
<ellipse cx="213.7" cy="840.7" rx="29.5" ry="37.7" transform="rotate(-20 213.7 840.7)" fill="#6c6ce8" stroke="#20206a"/>
<ellipse cx="214.5" cy="841.5" rx="24" ry="32" transform="rotate(-20 214.5 841.5)" fill="#8a8af0" stroke="#20206a"/>
<ellipse cx="217" cy="842" rx="18" ry="26" transform="rotate(-20 217 842)" fill="#b8b8f4" stroke="#303080"/>
<ellipse cx="220" cy="842" rx="13" ry="20" transform="rotate(-20 220 842)" fill="#dedee8" stroke="#444"/>
<!-- studs -->
<g fill="#2c2c30" stroke="#111">
<path d="M202,752 L214,746 C219,747 221,753 219,758 L207,764 C202,763 200,757 202,752 Z"/>
<path d="M249,748 L261,742 C266,743 268,749 266,754 L254,760 C249,759 247,753 249,748 Z"/>
<path d="M297,807 L309,801 C314,802 316,808 314,813 L302,819 C297,818 295,812 297,807 Z"/>
<path d="M249,875 L261,869 C266,870 268,876 266,881 L254,887 C249,886 247,880 249,875 Z"/>
<path d="M297,869 L309,863 C314,864 316,870 314,875 L302,881 C297,880 295,874 297,869 Z"/>
</g>
<g fill="#5a5a60" stroke="none">
<ellipse cx="204.5" cy="758" rx="3" ry="5" transform="rotate(-20 204.5 758)"/>
<ellipse cx="251.5" cy="754" rx="3" ry="5" transform="rotate(-20 251.5 754)"/>
<ellipse cx="299.5" cy="813" rx="3" ry="5" transform="rotate(-20 299.5 813)"/>
<ellipse cx="251.5" cy="881" rx="3" ry="5" transform="rotate(-20 251.5 881)"/>
<ellipse cx="299.5" cy="875" rx="3" ry="5" transform="rotate(-20 299.5 875)"/>
</g>
</g>
<g id="outerbearing">
<ellipse cx="160.5" cy="872.5" rx="17.5" ry="24" transform="rotate(-28 160.5 872.5)" fill="#d6d6da" stroke="#111" stroke-width="1.5"/>
<g stroke="#151515" stroke-width="1.6" fill="none">
<path d="M158,851 L163,857"/><path d="M165,851 L168,858"/><path d="M171,855 L172,862"/><path d="M175,860 L174,867"/>
<path d="M177,867 L174,873"/><path d="M178,874 L174,879"/><path d="M177,882 L172,885"/><path d="M174,889 L169,891"/>
</g>
<g fill="#f2f2f4" stroke="none">
<path d="M166,853 L169,857 L167.5,859 L164.5,855 Z"/><path d="M172,858 L174,862 L172,864 L170,860 Z"/><path d="M175.5,865 L176.5,869 L174.5,870 L173.5,866 Z"/>
<path d="M177,872 L177,876 L175,876.5 L175,872.5 Z"/><path d="M176.5,879 L175.5,883 L173.5,882.5 L174.5,879 Z"/>
</g>
<ellipse cx="152" cy="874.5" rx="15.5" ry="22.5" transform="rotate(-25 152 874.5)" fill="#dcdce0" stroke="#111" stroke-width="1.8"/>
<ellipse cx="153" cy="875.5" rx="11.8" ry="17.8" transform="rotate(-25 153 875.5)" fill="#c4c4ca" stroke="#222" stroke-width="1.2"/>
<ellipse cx="154" cy="876" rx="8.8" ry="14" transform="rotate(-25 154 876)" fill="#f0f0f3" stroke="#444" stroke-width="0.8"/>
<path d="M151,864 C154,869 157,878 158,886" fill="none" stroke="#333" stroke-width="0.9"/>
</g>
<g id="washer">
<ellipse cx="117" cy="897" rx="17" ry="22.5" transform="rotate(-22 117 897)" fill="#c2121c" stroke="#5a0008" stroke-width="1"/>
<ellipse cx="117.5" cy="897.5" rx="8.5" ry="13" transform="rotate(-22 117.5 897.5)" fill="#ffffff" stroke="#5a0008" stroke-width="0.8"/>
</g>
<g id="castle" stroke="#2a2a50" stroke-width="0.9">
<path d="M71,898 L81,891 L93,890 L108.6,904.5 L111,926 L102,934 L87,935.5 L76,923 Z" fill="#b0b0e6"/>
<path d="M96,897 L108.6,904.5 L111,926 L102,934 L99,916 Z" fill="#c4c4f0"/>
<path d="M80,905 L86,900 L95,902 L100,910 L99,922 L93,928 L84,926 L79,916 Z" fill="#f4f4fa" stroke="#444"/>
<g fill="#9090d4" stroke="#2a2a50" stroke-width="0.7">
<path d="M73,902 L79,899 L81,906 L75,909 Z"/><path d="M84,892 L90,891 L91,898 L85,899 Z"/>
<path d="M74,915 L80,913 L81,920 L76,922 Z"/><path d="M84,927 L90,928 L90,934 L85,933 Z"/>
</g>
</g>
<path d="M40,875.5 L60,885.5" fill="none" stroke="#3a3a3a" stroke-width="2.6" stroke-linecap="round"/><circle cx="40.5" cy="875.5" r="1.8" fill="none" stroke="#3a3a3a" stroke-width="1"/>
<g id="dustcap">
<ellipse cx="51" cy="935" rx="28" ry="35.5" transform="rotate(-25 51 935)" fill="#c8c8d0" stroke="#333" stroke-width="1"/>
<ellipse cx="49" cy="936" rx="28" ry="35.5" transform="rotate(-25 49 936)" fill="#e4e4ea" stroke="#555" stroke-width="0.8"/>
<ellipse cx="41" cy="938" rx="27.5" ry="35" transform="rotate(-25 41 938)" fill="url(#gCap)" stroke="#444" stroke-width="1"/>
<ellipse cx="30.5" cy="948" rx="12.4" ry="16.3" transform="rotate(-25 30.5 948)" fill="none" stroke="#333" stroke-width="0.9"/>
<path d="M27,943 C23,946 24,952 27,954 M32,942 L33,944 M33,948 L32,951" fill="none" stroke="#222" stroke-width="1.1"/>
</g>
<g><line x1="718.9" y1="92.9" x2="766.9" y2="92.9" stroke="#000" stroke-width="2.3"/><polygon points="778.4,92.9 765.9,98.5 765.9,87.3" fill="#000"/><line x1="980.0" y1="45.3" x2="980.0" y2="76.3" stroke="#000" stroke-width="2.3"/><polygon points="980.0,87.8 974.4,75.3 985.6,75.3" fill="#000"/><line x1="1175.0" y1="145.0" x2="1128.2" y2="174.9" stroke="#000" stroke-width="2.3"/><polygon points="1118.5,181.1 1126.0,169.7 1132.0,179.1" fill="#000"/><line x1="1247.6" y1="225.2" x2="1202.1" y2="255.8" stroke="#000" stroke-width="2.3"/><polygon points="1192.6,262.2 1199.8,250.6 1206.1,259.9" fill="#000"/><line x1="882.4" y1="262.7" x2="972.2" y2="301.8" stroke="#000" stroke-width="2.3"/><polygon points="982.7,306.4 969.0,306.5 973.5,296.3" fill="#000"/><line x1="847.2" y1="370.4" x2="847.2" y2="420.8" stroke="#000" stroke-width="2.3"/><polygon points="847.2,432.3 841.6,419.8 852.8,419.8" fill="#000"/><line x1="1147.3" y1="449.8" x2="1090.3" y2="424.7" stroke="#000" stroke-width="2.3"/><polygon points="1079.8,420.1 1093.5,420.0 1089.0,430.3" fill="#000"/><line x1="1146.1" y1="519.7" x2="1052.2" y2="449.6" stroke="#000" stroke-width="2.3"/><polygon points="1043.0,442.7 1056.4,445.7 1049.7,454.7" fill="#000"/><line x1="1084.0" y1="735.7" x2="1084.0" y2="687.3" stroke="#000" stroke-width="2.3"/><polygon points="1084.0,675.8 1089.6,688.3 1078.4,688.3" fill="#000"/><line x1="572.0" y1="344.4" x2="572.0" y2="390.3" stroke="#000" stroke-width="2.3"/><polygon points="572.0,401.8 566.4,389.3 577.6,389.3" fill="#000"/><line x1="504.3" y1="460.8" x2="695.7" y2="557.1" stroke="#000" stroke-width="2.3"/><polygon points="706.0,562.3 692.3,561.7 697.4,551.7" fill="#000"/><line x1="503.7" y1="575.6" x2="503.7" y2="591.1" stroke="#000" stroke-width="2.3"/><polygon points="503.7,602.6 498.1,590.1 509.3,590.1" fill="#000"/><line x1="454.7" y1="608.5" x2="456.6" y2="641.3" stroke="#000" stroke-width="2.3"/><polygon points="457.3,652.8 451.0,640.6 462.2,640.0" fill="#000"/><line x1="192.0" y1="565.9" x2="192.0" y2="622.5" stroke="#000" stroke-width="2.3"/><polygon points="192.0,634.0 186.4,621.5 197.6,621.5" fill="#000"/><line x1="119.0" y1="753.3" x2="113.4" y2="843.4" stroke="#000" stroke-width="2.3"/><polygon points="112.7,854.9 107.9,842.1 119.1,842.8" fill="#000"/><line x1="51.8" y1="820.6" x2="51.8" y2="847.5" stroke="#000" stroke-width="2.3"/><polygon points="51.8,859.0 46.2,846.5 57.4,846.5" fill="#000"/><line x1="161.8" y1="962.4" x2="119.1" y2="937.7" stroke="#000" stroke-width="2.3"/><polygon points="109.2,931.9 122.8,933.3 117.2,943.0" fill="#000"/><line x1="241.6" y1="950.1" x2="189.7" y2="900.3" stroke="#000" stroke-width="2.3"/><polygon points="181.4,892.3 194.3,896.9 186.5,905.0" fill="#000"/><line x1="76.3" y1="998.4" x2="68.1" y2="982.1" stroke="#000" stroke-width="2.3"/><polygon points="63.0,971.8 73.6,980.5 63.6,985.5" fill="#000"/></g>
<g><text x="559.56" y="103.6" textLength="140.48" lengthAdjust="spacingAndGlyphs">Leaf Spring</text><text x="915.17" y="41.1" textLength="140.25" lengthAdjust="spacingAndGlyphs">U-bolt Nuts</text><text x="1182.39" y="155.6" textLength="105.02" lengthAdjust="spacingAndGlyphs">Tie Plate</text><text x="1256.20" y="232.4" textLength="59.40" lengthAdjust="spacingAndGlyphs">Tube</text><text x="793.16" y="250.5" textLength="80.48" lengthAdjust="spacingAndGlyphs">Spring</text><text x="804.16" y="284.0" textLength="55.85" lengthAdjust="spacingAndGlyphs">Seat</text><text x="798.38" y="355.0" textLength="90.63" lengthAdjust="spacingAndGlyphs">Spindle</text><text x="1153.80" y="465.9" textLength="181.80" lengthAdjust="spacingAndGlyphs">Tube Assembly</text><text x="1217.00" y="499.5" textLength="55.60" lengthAdjust="spacingAndGlyphs">Wire</text><text x="1163.80" y="538.7" textLength="56.20" lengthAdjust="spacingAndGlyphs">Wire</text><text x="1128.19" y="572.3" textLength="127.01" lengthAdjust="spacingAndGlyphs">Connector</text><text x="1038.35" y="771.0" textLength="90.28" lengthAdjust="spacingAndGlyphs">U-bolts</text><text x="497.19" y="333.5" textLength="192.61" lengthAdjust="spacingAndGlyphs">Brake Assembly</text><text x="373.57" y="457.4" textLength="134.44" lengthAdjust="spacingAndGlyphs">Brake Nuts</text><text x="454.98" y="524.4" textLength="84.43" lengthAdjust="spacingAndGlyphs">Grease</text><text x="470.74" y="558.5" textLength="52.71" lengthAdjust="spacingAndGlyphs">Seal</text><text x="395.78" y="564.4" textLength="61.83" lengthAdjust="spacingAndGlyphs">Inner</text><text x="380.34" y="598.9" textLength="94.31" lengthAdjust="spacingAndGlyphs">Bearing</text><text x="166.11" y="512.5" textLength="49.14" lengthAdjust="spacingAndGlyphs">Hub</text><text x="135.00" y="546.7" textLength="114.60" lengthAdjust="spacingAndGlyphs">Assembly</text><text x="67.36" y="705.0" textLength="91.47" lengthAdjust="spacingAndGlyphs">Spindle</text><text x="68.40" y="738.3" textLength="91.20" lengthAdjust="spacingAndGlyphs">Washer</text><text x="14.39" y="781.3" textLength="77.82" lengthAdjust="spacingAndGlyphs">Cotter</text><text x="34.07" y="814.3" textLength="39.63" lengthAdjust="spacingAndGlyphs">Pin</text><text x="15.15" y="1025.4" textLength="106.47" lengthAdjust="spacingAndGlyphs">Dust cap</text><text x="140.37" y="986.9" textLength="75.25" lengthAdjust="spacingAndGlyphs">Castle</text><text x="155.55" y="1020.1" textLength="42.05" lengthAdjust="spacingAndGlyphs">Nut</text><text x="245.39" y="978.0" textLength="66.41" lengthAdjust="spacingAndGlyphs">Outer</text><text x="231.75" y="1011.4" textLength="94.69" lengthAdjust="spacingAndGlyphs">Bearing</text></g>
</svg>
</body></html>
